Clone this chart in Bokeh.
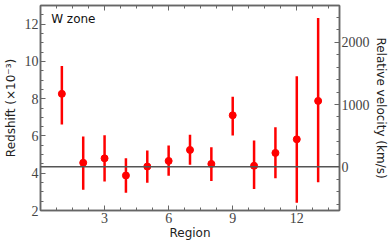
from bokeh.plotting import figure
from bokeh.models import (Range1d, LinearAxis, FixedTicker, Span, Label,
                          ColumnDataSource, CustomJSTickFormatter)
from bokeh.embed import file_html
from bokeh.resources import INLINE

# data (redshift in units of 1e-3)
region = [1, 2, 3, 4, 5, 6, 7, 8, 9, 10, 11, 12, 13]
redshift = [8.26, 4.56, 4.80, 3.88, 4.36, 4.66, 5.25, 4.50, 7.11, 4.40, 5.09, 5.82, 7.88]
err_low = [6.61, 3.11, 3.55, 2.95, 3.49, 3.86, 4.45, 3.58, 6.02, 3.15, 3.73, 2.41, 3.52]
err_high = [9.75, 5.97, 6.04, 4.80, 5.22, 5.49, 6.07, 5.40, 8.11, 5.75, 6.47, 9.20, 12.33]
z_ref = 4.35
c_kms = 299.792458  # km/s per 1e-3 redshift
x_ticks = [3, 6, 9, 12]
y_ticks = [2, 4, 6, 8, 10, 12]
v_ticks = [0, 1000, 2000]

FRAME = "#666666"
TXT = "#222222"

p = figure(width=390, height=244, output_backend="svg", toolbar_location=None,
           x_range=Range1d(0, 14), y_range=Range1d(2, 13),
           min_border_left=35, min_border_right=51, min_border_top=5, min_border_bottom=34)
p.xgrid.visible = False
p.ygrid.visible = False
p.outline_line_color = FRAME
p.outline_line_width = 1.5
p.background_fill_color = "white"
p.border_fill_color = "white"

p.extra_y_ranges = {"vel": Range1d((2 - z_ref) * c_kms, (13 - z_ref) * c_kms)}

def style(ax):
    ax.axis_line_color = FRAME
    ax.axis_line_width = 1.5
    ax.major_tick_line_color = FRAME
    ax.minor_tick_line_color = FRAME
    ax.major_tick_in = 5
    ax.major_tick_out = 0
    ax.minor_tick_in = 3
    ax.minor_tick_out = 0
    ax.major_label_text_font = "Liberation Serif"
    ax.major_label_text_font_size = "14px"
    ax.major_label_text_color = "#444444"
    ax.axis_label_text_font = "DejaVu Sans"
    ax.axis_label_text_font_size = "12px"
    ax.axis_label_text_font_style = "normal"
    ax.axis_label_text_color = TXT
    ax.major_label_standoff = 2
    ax.axis_label_standoff = 1

xminor = [0.75 * k for k in range(1, 19)]

xa = p.xaxis[0]
xa.ticker = FixedTicker(ticks=x_ticks, minor_ticks=xminor)
xa.axis_label = "Region"
style(xa)
xa.axis_label_standoff = 0

ya = p.yaxis[0]
ya.ticker = FixedTicker(ticks=y_ticks, minor_ticks=[2 + 0.5 * k for k in range(23)])
ya.axis_label = "Redshift (×10⁻³)"
style(ya)
ya.axis_label_standoff = 4

blank = CustomJSTickFormatter(code="return ''")
top = LinearAxis(ticker=FixedTicker(ticks=x_ticks, minor_ticks=xminor), formatter=blank)
style(top)
top.major_label_text_font_size = "0px"
top.major_label_standoff = 0
p.add_layout(top, "above")

right = LinearAxis(y_range_name="vel",
                   ticker=FixedTicker(ticks=v_ticks, minor_ticks=list(range(-600, 2601, 200))),
                   axis_label="Relative velocity (km/s)")
style(right)
right.major_label_standoff = 2
right.axis_label_standoff = 1
p.add_layout(right, "right")

p.add_layout(Span(location=z_ref, dimension="width", line_color="#555555", line_width=1.5))

src = ColumnDataSource(dict(x=region, y=redshift, lo=err_low, hi=err_high))
p.segment(x0="x", y0="lo", x1="x", y1="hi", source=src, line_color="red", line_width=2.5)
p.scatter(x="x", y="y", source=src, size=7, color="red")

p.add_layout(Label(x=0.5, y=12.25, text="W zone", text_font="DejaVu Sans",
                   text_font_size="12px", text_color="#111111", text_baseline="middle"))

open("out.html", "w").write(file_html(p, INLINE))
